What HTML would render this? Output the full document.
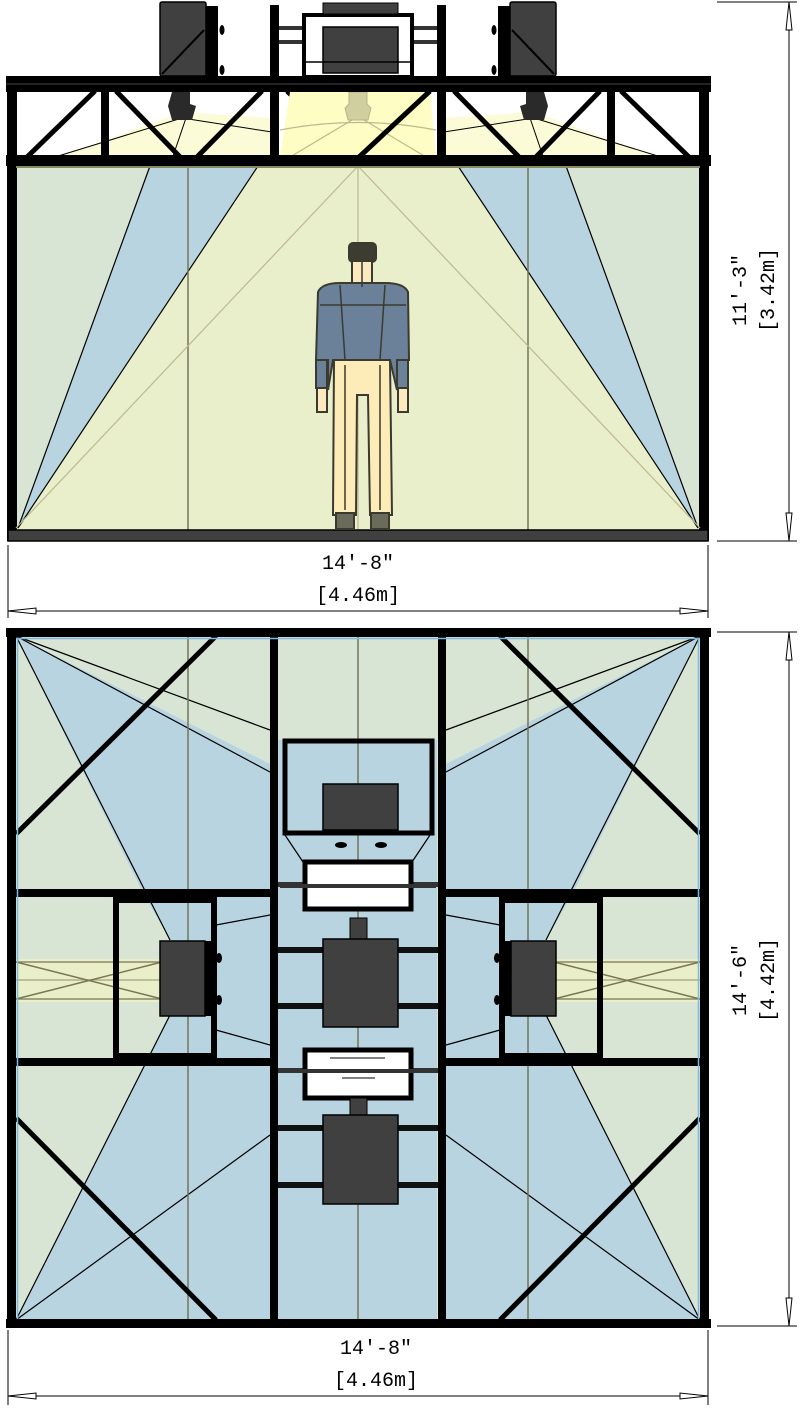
<!DOCTYPE html>
<html><head><meta charset="utf-8"><style>
html,body{margin:0;padding:0;background:#fff;}
svg{display:block;}
text{font-family:"Liberation Mono",monospace;fill:#000;}
</style></head><body>
<svg width="800" height="1419" viewBox="0 0 800 1419" xmlns="http://www.w3.org/2000/svg">
<defs>
<g id="planHalf">
  <!-- top band -->
  <polygon points="16,636 270,764 270,893 143,893" fill="#b8d4e0"/>
  <!-- middle band -->
  <polygon points="143,893 270,893 270,1063 145,1063 170,1015 170,940" fill="#b8d4e0"/>
  <rect x="16" y="959" width="146" height="43" fill="#e9efc8"/>
  <line x1="16" y1="962" x2="162" y2="962" stroke="#8a8a62" stroke-width="1.5"/>
  <line x1="16" y1="999" x2="162" y2="999" stroke="#8a8a62" stroke-width="1.5"/>
  <line x1="16" y1="980" x2="162" y2="980" stroke="#b0ad88" stroke-width="1.5"/>
  <line x1="16" y1="962" x2="162" y2="999" stroke="#777756" stroke-width="1.5"/>
  <line x1="16" y1="999" x2="162" y2="962" stroke="#777756" stroke-width="1.5"/>
  <!-- bottom band -->
  <polygon points="16,1320 145,1063 270,1063 270,1320" fill="#b8d4e0"/>
  <!-- light lines -->
  <g stroke="#000" stroke-width="1.2" fill="none">
    <line x1="16" y1="636" x2="270" y2="730"/>
    <line x1="16" y1="636" x2="270" y2="772"/>
    <line x1="16" y1="636" x2="170" y2="940"/>
    <line x1="16" y1="1320" x2="170" y2="1015"/>
    <line x1="16" y1="1320" x2="270" y2="1135"/>
    <line x1="216" y1="925" x2="270" y2="915"/>
    <line x1="216" y1="1030" x2="270" y2="1045"/>
  </g>
  <line x1="188" y1="636" x2="188" y2="1320" stroke="#75745a" stroke-width="1.5"/>
  <!-- corner diagonals -->
  <line x1="16" y1="834" x2="216" y2="636" stroke="#000" stroke-width="5"/>
  <line x1="16" y1="1118" x2="216" y2="1320" stroke="#000" stroke-width="5"/>
  <!-- speaker frame -->
  <rect x="116" y="900" width="98" height="156" fill="none" stroke="#000" stroke-width="6"/>
  <rect x="160" y="941" width="45" height="75" fill="#404040" stroke="#000" stroke-width="1.5"/>
  <rect x="205" y="941" width="8" height="75" fill="#000"/>
  <ellipse cx="219" cy="958" rx="3" ry="5" fill="#000"/>
  <ellipse cx="219" cy="1000" rx="3" ry="5" fill="#000"/>
  <!-- beams -->
  <rect x="8" y="889" width="268" height="8" fill="#000"/>
  <rect x="8" y="1058" width="268" height="8" fill="#000"/>
  <rect x="278" y="947" width="45" height="6" fill="#111"/>
  <rect x="278" y="1003" width="45" height="6" fill="#111"/>
  <rect x="278" y="1125" width="45" height="6" fill="#111"/>
  <rect x="278" y="1182" width="45" height="6" fill="#111"/>
  <rect x="278" y="882" width="30" height="5" fill="#333"/>
  <rect x="278" y="1068" width="30" height="5" fill="#333"/>
  <!-- outer frame -->
  <rect x="7" y="628" width="9" height="700" fill="#000"/>
  <line x1="17.5" y1="638" x2="17.5" y2="1320" stroke="#7fb8e0" stroke-width="1.5"/>
  <rect x="270" y="628" width="8" height="700" fill="#000"/>
</g>
<g id="elevHalf">
  <polygon points="150,166 258,166 18,528" fill="#b8d4e0"/>
  <line x1="150" y1="166" x2="18" y2="528" stroke="#000" stroke-width="1.2"/>
  <line x1="258" y1="166" x2="18" y2="528" stroke="#000" stroke-width="1.2"/>
  <line x1="188" y1="166" x2="188" y2="530" stroke="#75745a" stroke-width="1.5"/>
  <!-- spot light cone -->
  <polygon points="182,112 60,157 272,157 272,118" fill="#fbfbd8"/>
  <g stroke="#000" stroke-width="1">
    <line x1="182" y1="118" x2="55" y2="157"/>
    <line x1="182" y1="118" x2="272" y2="132"/>
    <line x1="186" y1="118" x2="170" y2="165"/>
  </g>
  <path d="M172 92 h18 v12 l6 2 -4 14 h-20 l-4 -14 z" fill="#2a2a2a"/>
  <!-- truss verticals -->
  <rect x="7" y="76" width="10" height="465" fill="#000"/>
  <rect x="101" y="90" width="8" height="68" fill="#000"/>
  <rect x="270" y="5" width="9" height="160" fill="#000"/>
  <g stroke="#000" stroke-width="5">
    <line x1="26" y1="158" x2="95" y2="91"/>
    <line x1="116" y1="91" x2="181" y2="158"/>
    <line x1="196" y1="158" x2="262" y2="91"/>
    <line x1="287" y1="91" x2="358" y2="158"/>
  </g>
  <!-- speaker on top -->
  <rect x="160" y="2" width="46" height="74" rx="2" fill="#404040" stroke="#000" stroke-width="1.5"/>
  <line x1="162" y1="74" x2="204" y2="30" stroke="#000" stroke-width="2"/>
  <rect x="206" y="6" width="12" height="70" fill="#000"/>
  <ellipse cx="222" cy="30" rx="2.5" ry="5" fill="#000"/>
  <ellipse cx="222" cy="70" rx="2.5" ry="5" fill="#000"/>
  <rect x="279" y="26" width="25" height="4" fill="#333"/>
  <rect x="279" y="40" width="25" height="4" fill="#333"/>
</g>
</defs>

<!-- ===== ELEVATION ===== -->
<rect x="16" y="166" width="684" height="364" fill="#d9e5d4"/>
<polygon points="258,166 460,166 700,530 16,530" fill="#e9efcb"/>
<use href="#elevHalf"/>
<use href="#elevHalf" transform="translate(716,0) scale(-1,1)"/>
<!-- center spot cone -->
<polygon points="290,92 430,92 436,157 280,157" fill="#fdfdc4"/>
<g stroke="#bdb98f" stroke-width="1.2" fill="none">
  <line x1="358" y1="166" x2="358" y2="530"/>
  <line x1="358" y1="166" x2="16" y2="528"/>
  <line x1="358" y1="166" x2="700" y2="528"/>
  <line x1="352" y1="120" x2="290" y2="157"/>
  <line x1="364" y1="120" x2="426" y2="157"/>
  <path d="M280 130 Q358 115 436 130"/>
</g>
<path d="M349 92 h18 v12 l4 4 -3 12 h-20 l-3 -12 4 -4 z" fill="#cfcf9f" stroke="#b8b68a"/>
<!-- center truss mid -->
<rect x="437" y="5" width="9" height="160" fill="#000"/>
<line x1="358" y1="158" x2="430" y2="91" stroke="#000" stroke-width="5"/>
<!-- center top equipment -->
<rect x="304" y="15" width="108" height="62" fill="#fff" stroke="#000" stroke-width="4"/>
<rect x="323" y="3" width="75" height="11" fill="#404040" stroke="#000"/>
<rect x="323" y="27" width="75" height="46" fill="#404040" stroke="#000" stroke-width="1.5"/>
<line x1="306" y1="62" x2="410" y2="62" stroke="#000" stroke-width="1.5"/>
<!-- top chord / bottom chord -->
<rect x="6" y="76" width="705" height="16" fill="#000"/>
<line x1="6" y1="84" x2="711" y2="84" stroke="#444" stroke-width="1"/>
<rect x="6" y="155" width="705" height="11" fill="#000"/>
<line x1="16" y1="167" x2="700" y2="167" stroke="#8a8a62" stroke-width="2"/>
<!-- floor -->
<rect x="8" y="530" width="700" height="11" fill="#404040" stroke="#000" stroke-width="1.5"/>

<!-- person -->
<g stroke="#3a3a2e" stroke-width="2">
  <rect x="349" y="243" width="27" height="19" rx="4" fill="#3c3c30"/>
  <rect x="352" y="261" width="20" height="26" fill="#fde9c0"/>
  <path d="M318 292 Q322 283 340 283 L385 283 Q404 283 408 292 L409 360 L397 360 L397 390 L390 360 L333 360 L328 390 L328 360 L316 360 Z" fill="#6a8199"/>
  <rect x="316" y="360" width="11" height="28" fill="#6a8199"/>
  <rect x="397" y="360" width="11" height="28" fill="#6a8199"/>
  <rect x="317" y="388" width="10" height="24" fill="#fde9c0"/>
  <rect x="398" y="388" width="10" height="24" fill="#fde9c0"/>
  <path d="M334 360 L390 360 L392 515 L370 515 L368 395 L357 395 L356 515 L333 515 Z" fill="#feecb8"/>
  <rect x="336" y="513" width="18" height="16" fill="#6b6b5a"/>
  <rect x="371" y="513" width="18" height="16" fill="#6b6b5a"/>
</g>
<g stroke="#3a3a2e" stroke-width="1.5" fill="none">
  <line x1="362" y1="262" x2="362" y2="287"/>
  <line x1="340" y1="285" x2="345" y2="360"/>
  <line x1="385" y1="285" x2="380" y2="360"/>
  <line x1="320" y1="305" x2="406" y2="305"/>
  <line x1="345" y1="365" x2="345" y2="510"/>
  <line x1="380" y1="365" x2="380" y2="510"/>
</g>

<!-- elevation dims -->
<g stroke="#000" stroke-width="1" fill="none">
  <line x1="8" y1="545" x2="8" y2="618"/>
  <line x1="708" y1="545" x2="708" y2="618"/>
  <line x1="8" y1="611" x2="708" y2="611"/>
  <line x1="717" y1="2" x2="797" y2="2"/>
  <line x1="717" y1="541" x2="797" y2="541"/>
  <line x1="789" y1="2" x2="789" y2="541"/>
</g>
<path d="M8 611 l28 -3 v6 z M708 611 l-28 -3 v6 z M789 2 l-3 28 h6 z M789 541 l-3 -28 h6 z" fill="#fff" stroke="#000"/>
<text x="358" y="569" font-size="20" text-anchor="middle">14'-8"</text>
<text x="358" y="601" font-size="20" text-anchor="middle">[4.46m]</text>
<text transform="translate(746,290) rotate(-90)" font-size="20" text-anchor="middle">11'-3"</text>
<text transform="translate(774,290) rotate(-90)" font-size="20" text-anchor="middle">[3.42m]</text>

<!-- ===== PLAN ===== -->
<rect x="16" y="636" width="684" height="684" fill="#d9e5d4"/>
<rect x="278" y="740" width="159" height="580" fill="#b8d4e0"/>
<use href="#planHalf"/>
<use href="#planHalf" transform="translate(716,0) scale(-1,1)"/>
<line x1="358" y1="636" x2="358" y2="1320" stroke="#75745a" stroke-width="1.5"/>
<!-- center column lines -->
<g stroke="#000" stroke-width="1.2">
  <line x1="305" y1="865" x2="285" y2="835"/>
  <line x1="410" y1="865" x2="430" y2="835"/>
</g>
<!-- inner top frame -->
<rect x="285" y="741" width="147" height="92" fill="none" stroke="#000" stroke-width="5"/>
<rect x="323" y="784" width="75" height="46" fill="#404040" stroke="#000" stroke-width="1.5"/>
<ellipse cx="341" cy="845" rx="6" ry="3" fill="#000"/>
<ellipse cx="381" cy="845" rx="6" ry="3" fill="#000"/>
<!-- screens -->
<rect x="305" y="862" width="106" height="47" fill="#fff" stroke="#000" stroke-width="5"/>
<line x1="280" y1="886" x2="436" y2="886" stroke="#333" stroke-width="4"/>
<rect x="305" y="1050" width="106" height="48" fill="#fff" stroke="#000" stroke-width="5"/>
<line x1="280" y1="1071" x2="436" y2="1071" stroke="#333" stroke-width="4"/>
<line x1="330" y1="1058" x2="385" y2="1058" stroke="#000"/>
<line x1="342" y1="1078" x2="375" y2="1078" stroke="#000"/>
<!-- boxes -->
<rect x="350" y="918" width="17" height="22" fill="#404040" stroke="#000"/>
<rect x="323" y="939" width="75" height="88" fill="#404040" stroke="#000" stroke-width="1.5"/>
<rect x="350" y="1098" width="17" height="18" fill="#404040" stroke="#000"/>
<rect x="323" y="1115" width="75" height="89" fill="#404040" stroke="#000" stroke-width="1.5"/>
<!-- outer frame top/bottom -->
<rect x="6" y="628" width="705" height="9" fill="#000"/>
<line x1="16" y1="638.5" x2="700" y2="638.5" stroke="#7fb8e0" stroke-width="1.5"/>
<rect x="6" y="1319" width="705" height="9" fill="#000"/>

<!-- plan dims -->
<g stroke="#000" stroke-width="1" fill="none">
  <line x1="8" y1="1330" x2="8" y2="1405"/>
  <line x1="708" y1="1330" x2="708" y2="1405"/>
  <line x1="8" y1="1396" x2="708" y2="1396"/>
  <line x1="717" y1="632" x2="797" y2="632"/>
  <line x1="717" y1="1326" x2="797" y2="1326"/>
  <line x1="789" y1="632" x2="789" y2="1326"/>
</g>
<path d="M8 1396 l28 -3 v6 z M708 1396 l-28 -3 v6 z M789 632 l-3 28 h6 z M789 1326 l-3 -28 h6 z" fill="#fff" stroke="#000"/>
<text x="376" y="1354" font-size="20" text-anchor="middle">14'-8"</text>
<text x="376" y="1386" font-size="20" text-anchor="middle">[4.46m]</text>
<text transform="translate(746,980) rotate(-90)" font-size="20" text-anchor="middle">14'-6"</text>
<text transform="translate(774,980) rotate(-90)" font-size="20" text-anchor="middle">[4.42m]</text>
</svg>
</body></html>
